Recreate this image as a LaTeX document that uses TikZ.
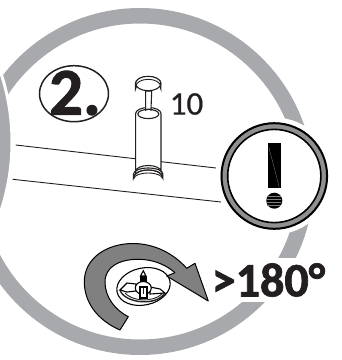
\documentclass[tikz,border=0pt]{standalone}
\usepackage{fontspec}
\setmainfont{Carlito}
\newfontfamily\heavyfont[BoldFeatures={FakeBold=1.5}]{Carlito}
\newfontfamily\plainfont[FakeBold=0.6]{Carlito}
\definecolor{ringgray}{HTML}{A7A9AC}
\definecolor{arrowgray}{HTML}{808080}
\definecolor{inkblack}{HTML}{231F20}
\begin{document}
\begin{tikzpicture}
 [x=1pt,y=-1pt,
  ring line/.style={line width=15.5pt, ringgray},
  edge line/.style={line width=0.9pt, inkblack},
  part line/.style={line width=1.1pt, inkblack, fill=white},
  knob line/.style={line width=1.1pt, black, fill=white}]

\useasboundingbox (0,0) rectangle (342,360);

\coordinate (ringc) at (140,181.5);
\draw[ring line] (ringc) circle (165.75);
\fill[ringgray, draw=white, line width=3pt] (-207,142) circle (219);

\draw[edge line] (15.7,145) coordinate (a1) -- (216,168) coordinate (a2);
\draw[edge line] (12.7,179.3) coordinate (b1) -- (221,202) coordinate (b2);

% warning sign
\fill[white] (274.3,176) circle (58.5);
\draw[line width=7pt, ringgray!85!black] (274.3,176) circle (50);
\draw[line width=2pt, black] (274.3,176) circle (52.8);
\draw[line width=1.6pt, black] (274.3,176) circle (46.6);
\fill[black] (268,143.3) rectangle (280.7,188);
\draw[line width=0.3pt, gray] (268.7,146.7) -- (279.3,187.3);
\fill[black] (274.3,200.7) circle (8);
\foreach \y in {196,199,202,205}
  \draw[line width=0.4pt, gray] (267.5,\y) -- (281,\y);

% plunger
\draw[part line] (133.5,174) -- (133.5,178) arc[start angle=180,end angle=360,x radius=14.7,y radius=8] -- (162.9,174)
  arc[start angle=0,end angle=-180,x radius=14.7,y radius=6] -- cycle;
\draw[edge line] (134,178.5) arc[start angle=180,end angle=360,x radius=14.2,y radius=5.5];
\draw[edge line] (134.5,176) arc[start angle=180,end angle=360,x radius=13.7,y radius=6];
\draw[part line] (135.7,113.5) -- (135.7,171.5) arc[start angle=180,end angle=360,x radius=12.65,y radius=6] -- (161,113.5)
  arc[start angle=0,end angle=-180,x radius=12.65,y radius=6] -- cycle;
\draw[part line] (148.3,114) ellipse (10.5 and 4.6);
\draw[part line] (145.7,91) -- (145.7,110) arc[start angle=200,end angle=340,x radius=2.8,y radius=1.5] -- (151.7,91) -- cycle;
\draw[part line] (135.5,83.5) -- (135.5,89) arc[start angle=180,end angle=360,x radius=12.7,y radius=7.5] -- (160.9,83.5)
  arc[start angle=0,end angle=-180,x radius=12.7,y radius=7] -- cycle;
\draw[part line] (148.2,83.5) ellipse (12.7 and 7.2);
\draw[edge line] (135.8,86.5) arc[start angle=180,end angle=360,x radius=12.4,y radius=7.2];

\node[inkblack, font=\plainfont\fontsize{33}{33}\selectfont] (ten) at (186.5,104) {10};

\draw[line width=1.5pt, inkblack] (74,93.7) ellipse (34.5 and 28);
\node[inkblack, font=\heavyfont\bfseries\fontsize{67}{67}\selectfont] (two) at (75,93) {2.};

\node[fill=white, inner xsep=1pt, inner ysep=0pt, minimum height=44pt, text=inkblack,
  font=\heavyfont\bfseries\fontsize{48}{48}\selectfont] (angle) at (268.5,280) {>180°};

% knob
\draw[knob line, rotate around={12:(143.5,286.5)}] (143.5,286.5) ellipse (27 and 18.5);
\draw[edge line, line width=1.4pt] (120,290) .. controls (124,303) and (156,307) .. (165,293);
\draw[edge line] (125,293) .. controls (132,301) and (152,303) .. (162,294);
\draw[knob line] (120,290) -- (127,283) -- (136,284) -- (136,291) -- (127,292) -- cycle;
\draw[knob line] (150,287) -- (160,289) -- (165,293) -- (150,294) -- cycle;
\fill[black] (140,276) rectangle (147,282);
\draw[knob line] (140.5,276) -- (143.3,270.7) -- (146,276) -- cycle;
\draw[knob line] (143.3,288) ellipse (8 and 6.5);
\draw[knob line] (140,287) rectangle (147,298);
\draw[edge line] (143.5,288) -- (143.5,294);

% turn arrow
\draw[line width=1pt, black, fill=arrowgray, line join=round]
  (128.3,316.7) -- (120,330)
  .. controls (97,320) and (84.3,302) .. (84.3,281.7)
  .. controls (84.3,258) and (107,243.5) .. (133,243.5)
  .. controls (155,243.5) and (174,254) .. (186.7,268.3)
  -- (195,263.3) -- (208.3,301) -- (166.7,276) -- (175,272.7)
  .. controls (165,264) and (152,259.3) .. (138.3,259.3)
  .. controls (119,259.3) and (105,267) .. (105,282)
  .. controls (105,297) and (115,310) .. (128.3,316.7) -- cycle;
\end{tikzpicture}
\end{document}
